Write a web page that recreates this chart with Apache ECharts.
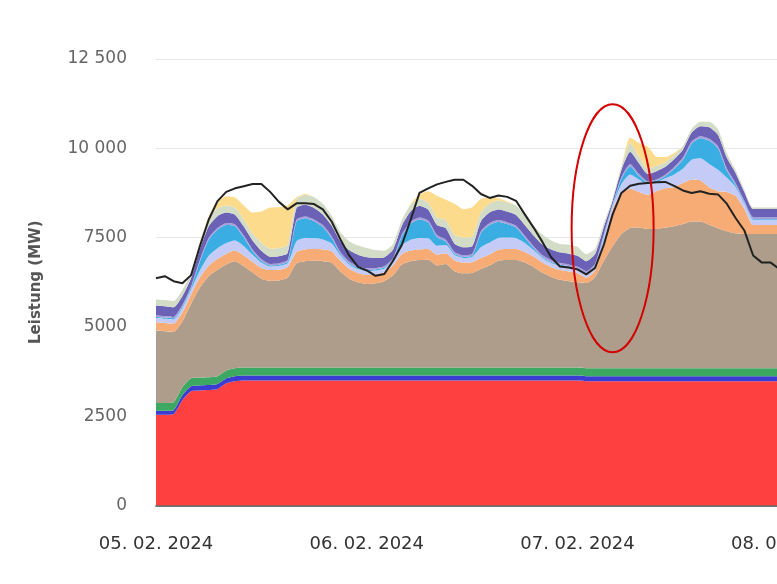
<!DOCTYPE html>
<html>
<head>
<meta charset="utf-8">
<script src="https://cdn.jsdelivr.net/npm/echarts@6/dist/echarts.min.js"></script>
<style>
  html, body { margin: 0; padding: 0; background: #fff; }
  #chart { width: 777px; height: 584px; }
</style>
</head>
<body>
<div id="chart"></div>
<script>
// Stunden ab 05.02.2024 00:00 (Achse bis 09.02. 00:00)
var hours = [];
for (var i = 0; i <= 96; i++) hours.push(i);

// Erzeugung in MW (gestapelt, von unten nach oben), Stunde 0..72
var kernkraft = [2540,2540,2560,2950,3200,3220,3230,3260,3420,3480,
  3500,3500,3500,3500,3500,3500,3500,3500,3500,3500,3500,3500,3500,3500,3500,
  3500,3500,3500,3500,3500,3500,3500,3500,3500,3500,3500,3500,3500,3500,3500,
  3500,3500,3500,3500,3500,3500,3500,3500,3500,
  3480,3480,3480,3480,3480,3480,3480,3480,3480,3480,3480,3480,3480,3480,3480,
  3480,3480,3480,3480,3480,3480,3480,3480,3480];
var blau = [110,110,110,140,140,140,140,140,140,140,140,140,140,140,140,140,140,140,140,140,140,140,140,140,140,
  140,140,140,140,140,140,140,140,140,140,140,140,140,140,140,140,140,140,140,140,140,140,140,140,
  140,140,140,140,140,140,140,140,140,140,140,140,140,140,140,140,140,140,140,140,140,140,140,140];
var gruen = [220,220,220,220,220,220,220,220,220,220,220,220,220,220,220,220,220,220,220,220,220,220,220,220,220,
  220,220,220,220,220,220,220,220,220,220,220,220,220,220,220,220,220,220,220,220,220,220,220,220,
  220,220,220,220,220,220,220,220,220,220,220,220,220,220,220,220,220,220,220,220,220,220,220,220];
var kohle = [2030,2010,1970,1840,2090,2520,2830,2980,2970,3000,2840,2660,2490,2430,2440,2520,2920,2980,2990,2980,2940,2690,2490,2390,2340,
  2360,2420,2590,2890,2980,3010,3020,2860,2900,2700,2640,2650,2760,2860,2990,3010,3010,2940,2820,2660,2540,2460,2420,2390,
  2390,2560,3010,3420,3760,3930,3940,3900,3900,3940,3980,4040,4110,4110,4020,3920,3840,3780,3760,3760,3760,3760,3760,3760];
var gas = [230,230,230,250,260,280,290,300,300,300,300,300,300,300,300,300,320,330,330,330,320,300,280,260,250,
  250,250,270,290,300,300,300,300,300,300,300,300,310,310,310,310,310,300,290,280,270,270,270,250,
  150,180,500,1030,1150,1100,1000,960,1060,1100,1100,1150,1180,1150,1050,1040,1100,1050,700,250,250,250,250,250];
var hellblau = [120,120,120,130,140,200,280,300,300,280,260,200,150,100,110,110,300,320,300,280,220,150,120,110,110,
  110,100,130,250,300,320,300,250,230,150,130,150,300,330,330,320,300,250,180,130,120,120,120,110,
  100,110,150,100,250,400,350,300,250,280,350,400,550,620,650,600,400,250,150,150,150,150,150,150];
var cyan = [30,30,30,40,50,250,450,520,500,400,250,100,50,30,30,40,550,550,480,350,150,50,30,30,30,
  30,30,40,250,450,520,450,250,100,40,30,30,400,500,450,380,300,150,60,30,30,30,30,30,
  30,30,50,30,150,230,100,40,40,60,150,250,450,560,650,600,200,60,30,20,20,20,20,20];
var lavendel = [40,40,40,40,40,50,50,50,50,50,50,50,50,40,40,40,50,50,50,50,50,50,50,50,50,
  40,40,40,50,50,50,50,50,50,50,50,50,50,50,50,50,50,50,50,50,50,50,50,50,
  50,50,50,20,40,60,50,40,40,40,50,60,60,60,60,60,60,50,50,50,50,50,50,50];
var violett = [280,280,270,250,230,300,330,330,300,270,250,250,230,200,200,200,330,330,320,300,300,300,320,320,310,
  280,250,240,250,300,330,300,280,320,230,220,220,280,300,300,300,300,300,300,300,300,300,300,300,
  280,270,200,100,200,340,300,200,230,220,220,220,250,280,320,320,300,280,250,230,230,230,230,230];
var blassgruen = [170,170,170,170,150,200,220,220,200,200,200,200,230,230,230,230,250,280,300,300,280,250,250,260,260,
  220,180,150,150,180,200,200,220,230,250,270,270,250,250,250,250,270,280,280,270,250,230,250,250,
  200,150,100,40,100,250,200,150,150,130,120,100,100,120,150,150,120,80,60,40,40,40,40,40];
var solar = [0,0,0,0,0,20,60,180,260,280,390,580,870,1150,1140,1100,50,30,0,0,0,0,0,0,0,
  0,0,0,0,30,120,320,600,570,870,800,820,370,160,60,30,0,0,0,0,0,0,0,0,
  0,0,0,0,0,150,370,620,250,140,60,0,0,0,0,0,0,0,0,0,0,0,0,0];
// Verbrauch (schwarze Linie)
var last = [6360,6420,6280,6220,6450,7260,8000,8520,8780,8880,8940,9000,9000,8780,8500,8290,8460,8460,8440,8290,7950,7450,7000,6680,6580,
  6430,6480,6850,7300,8000,8750,8880,8990,9060,9120,9120,8950,8720,8610,8680,8640,8530,8150,7780,7380,6950,6690,6660,6610,
  6470,6650,7300,8150,8750,8950,9010,9030,9050,9060,8950,8820,8750,8800,8730,8710,8450,8050,7700,7000,6800,6800,6620,6550];

var yTicks = [0, 2500, 5000, 7500, 10000, 12500];

var layers = [
  { name: 'Kernkraft', data: kernkraft, color: '#fe4040' },
  { name: 'Blau', data: blau, color: '#3a3cd2' },
  { name: 'Grün', data: gruen, color: '#3ca862' },
  { name: 'Kohle', data: kohle, color: '#ad9d8a' },
  { name: 'Gas', data: gas, color: '#f7ab75' },
  { name: 'Hellblau', data: hellblau, color: '#c3cbf6' },
  { name: 'Cyan', data: cyan, color: '#3aaee2' },
  { name: 'Lavendel', data: lavendel, color: '#a59edb' },
  { name: 'Violett', data: violett, color: '#6b61b6' },
  { name: 'Blassgrün', data: blassgruen, color: '#d3dcc6' },
  { name: 'Solar', data: solar, color: '#fcdb8d' }
];

var series = layers.map(function (l) {
  return {
    name: l.name,
    type: 'line',
    stack: 'total',
    smooth: 0.2,
    symbol: 'none',
    lineStyle: { width: 0 },
    areaStyle: { color: l.color, opacity: 1 },
    itemStyle: { color: l.color },
    data: l.data
  };
});
series.push({
  name: 'Last',
  type: 'line',
  symbol: 'none',
  z: 5,
  lineStyle: { color: '#222', width: 2 },
  itemStyle: { color: '#222' },
  data: last
});

var chart = echarts.init(document.getElementById('chart'));
chart.setOption({
  animation: false,
  backgroundColor: '#fff',
  grid: { left: 156, top: 59, width: 843, height: 446.5, outerBoundsMode: 'none', containLabel: false },
  xAxis: {
    type: 'category',
    data: hours,
    boundaryGap: false,
    axisLine: { lineStyle: { color: '#444', width: 1.5 } },
    axisTick: { show: false },
    splitLine: { show: false },
    axisLabel: {
      interval: 23,
      margin: 30,
      color: '#333',
      fontSize: 18,
      fontFamily: 'DejaVu Sans',
      formatter: function (v) {
        var d = 5 + Number(v) / 24;
        return (d < 10 ? '0' + d : d) + '. 02. 2024';
      }
    }
  },
  yAxis: {
    type: 'value',
    min: yTicks[0],
    max: yTicks[yTicks.length - 1],
    interval: 2500,
    name: 'Leistung (MW)',
    nameLocation: 'middle',
    nameRotate: 90,
    nameGap: 112,
    nameTextStyle: { color: '#555', fontSize: 15, fontWeight: 'bold', fontFamily: 'DejaVu Sans' },
    axisLine: { show: false },
    axisTick: { show: false },
    splitLine: { lineStyle: { color: '#e6e6e6', width: 1 } },
    axisLabel: {
      margin: 29,
      color: '#666',
      fontSize: 17,
      fontFamily: 'DejaVu Sans',
      formatter: function (v) {
        return v >= 10000 ? String(v).replace(/(\d{2})(\d{3})$/, '$1 $2') : String(v);
      }
    }
  },
  series: series
});

// rote Markierung um den Morgen des 07.02.
var c = chart.convertToPixel({ xAxisIndex: 0, yAxisIndex: 0 }, [51.9, 7760]);
chart.setOption({
  graphic: [{
    type: 'ellipse',
    shape: { cx: c[0], cy: c[1], rx: 41, ry: 124 },
    style: { fill: 'none', stroke: '#d40000', lineWidth: 2 },
    z: 100
  }]
});
</script>
</body>
</html>
